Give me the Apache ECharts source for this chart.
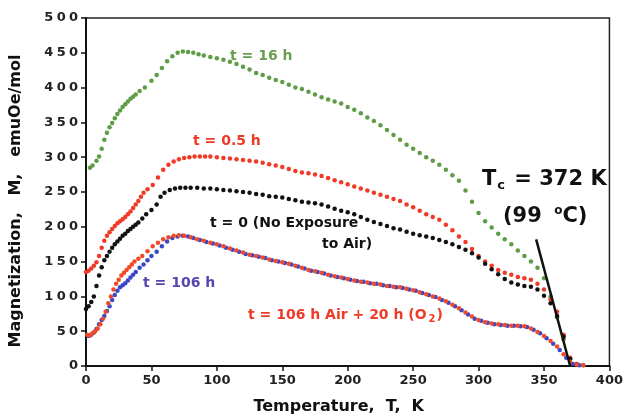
<!DOCTYPE html>
<html>
<head>
<meta charset="utf-8">
<script src="https://cdn.jsdelivr.net/npm/echarts@6/dist/echarts.min.js"></script>
<style>
  html, body { margin: 0; padding: 0; background: #fff; }
  #chart { width: 626px; height: 420px; }
</style>
</head>
<body>
<div id="chart"></div>
<script>
// 数据
var xTicks = [0, 50, 100, 150, 200, 250, 300, 350, 400];
var yTicks = [0, 50, 100, 150, 200, 250, 300, 350, 400, 450, 500];

// t = 16 h
var tGreen = [3,5,8,10,12,14,16,18,20,22,24,26,28,30,32,34,36,38,41,45,50,54,58,62,66,70,74,78,82,86,90,95,100,105,110,115,120,125,130,135,140,145,150,155,160,165,170,175,180,185,190,195,200,205,210,215,220,225,230,235,240,245,250,255,260,265,270,275,280,285,290,295,300,305,310,315,320,325,330,335,340,345,350,355,360,365,370,375,380];
var mGreen = [285,288,295,301,312,325,335,343,349,356,362,367,372,376,380,384,387,390,395,400,410,418,428,438,445,450,452,451,450,448,446,444,442,440,437,434,430,426,421,418,414,411,408,404,400,398,394,390,386,383,380,377,372,368,363,357,352,346,339,332,325,318,312,306,300,295,289,282,274,266,252,236,220,208,199,190,182,175,166,158,150,141,126,100,70,38,10,2,1];

// t = 0.5 h
var tRed = [0,2,4,6,8,10,12,14,16,18,20,22,24,26,28,30,32,34,36,38,40,42,44,47,51,55,59,63,67,71,75,79,83,87,91,95,100,105,110,115,120,125,130,135,140,145,150,155,160,165,170,175,180,185,190,195,200,205,210,215,220,225,230,235,240,245,250,255,260,265,270,275,280,285,290,295,300,305,310,315,320,325,330,335,340,345,350,355,360,365,370,375];
var mRed = [135,137,140,144,149,158,170,180,187,192,197,201,205,208,211,214,218,222,227,232,237,243,249,254,260,271,282,289,294,297,299,300,301,301,301,301,300,299,298,297,296,295,294,292,290,288,286,283,280,278,277,275,273,270,267,264,261,258,255,252,249,246,243,240,237,232,228,223,218,214,210,203,195,186,178,168,158,150,144,138,134,131,128,126,124,118,110,96,78,45,12,3];

// t = 0 (No Exposure to Air)
var tBlack = [0,2,4,6,8,10,12,14,16,18,20,22,24,26,28,30,32,34,36,38,40,43,46,50,54,57,60,64,68,72,76,80,85,90,95,100,105,110,115,120,125,130,135,140,145,150,155,160,165,170,175,180,185,190,195,200,205,210,215,220,225,230,235,240,245,250,255,260,265,270,275,280,285,290,295,300,305,310,315,320,325,330,335,340,345,350,355,360,365,370,375];
var mBlack = [82,86,92,100,115,130,142,152,158,164,170,175,179,183,187,190,194,197,200,203,206,212,218,224,232,243,249,253,255,256,256,256,256,255,255,254,253,252,251,250,249,247,246,244,243,242,240,238,236,235,234,232,229,226,223,221,218,214,210,207,204,201,198,196,193,190,188,186,184,181,178,175,171,167,162,156,147,139,132,125,120,117,115,114,110,101,90,72,42,10,2];

// t = 106 h
var tBlue = [2,4,6,8,10,12,14,16,18,20,22,24,26,28,30,32,34,36,38,41,44,47,50,54,58,62,66,70,74,78,82,87,92,97,102,107,112,117,122,127,132,137,142,147,152,157,162,167,172,177,182,187,192,197,202,207,212,217,222,227,232,237,242,247,252,257,262,267,272,277,282,287,292,297,302,307,312,317,322,327,332,337,342,347,352,357,362,367,372,377];
var mBlue = [43,45,48,53,60,66,72,79,86,95,102,108,113,116,119,123,127,131,135,141,146,152,158,164,172,179,184,186,187,186,184,181,178,176,173,170,167,164,161,159,157,155,152,150,148,146,143,140,137,135,133,130,128,126,124,122,121,119,118,116,115,113,112,110,108,105,102,99,95,91,86,80,74,68,65,62,60,59,58,58,57,56,52,47,40,32,23,12,3,1];

// t = 106 h Air + 20 h (O2)
var tOxy = [1,3,5,7,9,11,13,15,17,19,21,23,25,27,29,31,33,35,37,40,43,47,51,55,59,63,67,71,75,80,85,90,95,100,105,110,115,120,125,130,135,140,145,150,155,160,165,170,175,180,185,190,195,200,205,210,215,220,225,230,235,240,245,250,255,260,265,270,275,280,285,290,295,300,305,310,315,320,325,330,335,340,345,350,355,360,365,370,375,380];
var mOxy = [45,44,47,50,54,60,68,78,90,100,110,118,124,130,134,138,142,146,150,154,158,165,172,177,182,185,187,188,187,185,182,180,177,175,172,169,166,163,160,158,156,153,151,149,147,144,141,138,136,134,131,129,127,125,123,121,120,118,117,115,114,113,111,109,106,103,100,97,93,88,83,77,71,66,63,61,60,59,58,58,57,54,49,43,36,28,17,6,2,1];

// Tc 直线
var tcLineT = [344, 370];
var tcLineM = [182, 0];

function zip(a, b) {
    var out = [];
    for (var i = 0; i < a.length; i++) {
        out.push([a[i], b[i]]);
    }
    return out;
}

var FONT = 'DejaVu Sans';
var myChart = echarts.init(document.getElementById('chart'));

var dotSeries = function (name, data, color, size) {
    return {
        name: name,
        type: 'scatter',
        data: data,
        symbolSize: size,
        itemStyle: { color: color, opacity: 1 },
        silent: true
    };
};

var option = {
    animation: false,
    backgroundColor: '#fff',
    grid: {
        left: 86, right: 13, top: 18, bottom: 53,
        show: true, borderColor: '#222', borderWidth: 1.5, backgroundColor: 'transparent'
    },
    xAxis: {
        type: 'value', min: xTicks[0], max: xTicks[xTicks.length - 1], interval: 50,
        name: 'Temperature,  T,  K',
        nameLocation: 'middle', nameGap: 33,
        nameTextStyle: { fontFamily: FONT, fontWeight: 'bold', fontSize: 16, color: '#111', padding: [0, 18, 0, 0] },
        axisLine: { lineStyle: { color: '#111', width: 2 } },
        axisTick: { show: true, inside: false, length: 5, lineStyle: { color: '#111', width: 1.5 } },
        axisLabel: { fontFamily: FONT, fontWeight: 'bold', fontSize: 13, color: '#222', margin: 8 },
        splitLine: { show: false }
    },
    yAxis: {
        type: 'value', min: yTicks[0], max: yTicks[yTicks.length - 1], interval: 50,
        name: 'Magnetization,   M,   emuOe/mol',
        nameLocation: 'middle', nameGap: 62,
        nameTextStyle: { fontFamily: FONT, fontWeight: 'bold', fontSize: 16, color: '#111', padding: [0, 18, 0, 0] },
        axisLine: { lineStyle: { color: '#111', width: 2 } },
        axisTick: { show: true, inside: false, length: 5, lineStyle: { color: '#111', width: 1.5 } },
        axisLabel: {
            fontFamily: FONT, fontWeight: 'bold', fontSize: 13, color: '#222', margin: 8,
            formatter: function (v) { return String(v).split('').join('\u2005'); }
        },
        splitLine: { show: false }
    },
    series: [
        dotSeries('t = 16 h', zip(tGreen, mGreen), '#5e9c46', 4.5),
        dotSeries('t = 0.5 h', zip(tRed, mRed), '#f03a26', 4.5),
        dotSeries('t = 0', zip(tBlack, mBlack), '#111111', 4.5),
        dotSeries('t = 106 h', zip(tBlue, mBlue), '#3848c8', 4.5),
        dotSeries('t = 106 h Air + 20 h (O2)', zip(tOxy, mOxy), '#f04a2a', 4.5),
        {
            name: 'Tc',
            type: 'line',
            data: zip(tcLineT, tcLineM),
            symbol: 'none',
            lineStyle: { color: '#111', width: 2.5 },
            silent: true
        }
    ],
    graphic: [
        { type: 'text', left: 230, top: 49, style: { text: 't = 16 h', fill: '#6a9e52', font: 'bold 14px "DejaVu Sans"' } },
        { type: 'text', left: 193, top: 134, style: { text: 't = 0.5 h', fill: '#f03a26', font: 'bold 14px "DejaVu Sans"' } },
        { type: 'text', left: 210, top: 216, style: { text: 't = 0 (No Exposure', fill: '#111', font: 'bold 14px "DejaVu Sans"' } },
        { type: 'text', left: 322, top: 237, style: { text: 'to Air)', fill: '#111', font: 'bold 14px "DejaVu Sans"' } },
        { type: 'text', left: 143, top: 276, style: { text: 't = 106 h', fill: '#5448b0', font: 'bold 14px "DejaVu Sans"' } },
        {
            type: 'text', left: 248, top: 308,
            style: {
                text: '{a|t = 106 h Air + 20 h (O}{s|2}{a|)}',
                rich: {
                    a: { fill: '#f03a26', font: 'bold 14px "DejaVu Sans"' },
                    s: { fill: '#f03a26', font: 'bold 10px "DejaVu Sans"', padding: [8, 1, 0, 2] }
                }
            }
        },
        {
            type: 'text', left: 482, top: 169,
            style: {
                text: '{a|T}{s|c}{a| = 372 K}',
                rich: {
                    a: { fill: '#111', font: 'bold 21px "DejaVu Sans"' },
                    s: { fill: '#111', font: 'bold 13px "DejaVu Sans"', padding: [12, 2, 0, 1] }
                }
            }
        },
        {
            type: 'text', left: 503, top: 205,
            style: {
                text: '{a|(99 }{s|o}{a|C)}',
                rich: {
                    a: { fill: '#111', font: 'bold 21px "DejaVu Sans"' },
                    s: { fill: '#111', font: 'bold 12px "DejaVu Sans"', padding: [0, 0, 12, 5] }
                }
            }
        }
    ]
};

if (option && typeof option === 'object') {
    myChart.setOption(option, true);
}
</script>
</body>
</html>
